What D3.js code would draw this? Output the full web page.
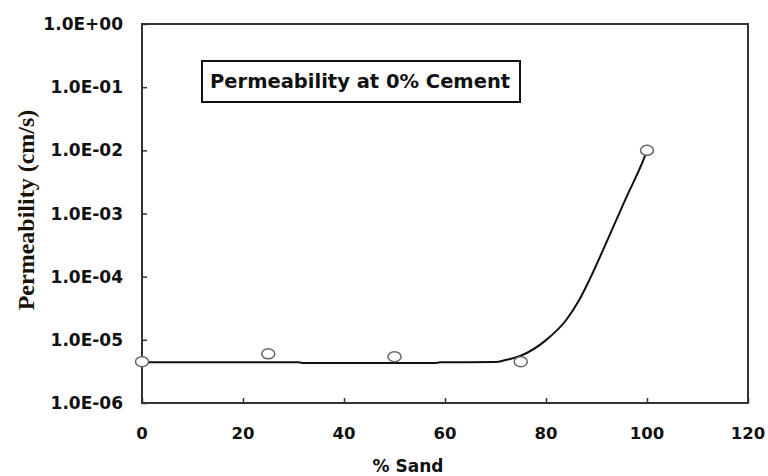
<!DOCTYPE html>
<html>
<head>
<meta charset="utf-8">
<script src="https://cdn.jsdelivr.net/npm/d3@7"></script>
<style>
  body { margin: 0; background: #fff; }
  svg { display: block; }
</style>
</head>
<body>
<div id="chart"></div>
<script>
// measured points
var sand = [0, 25, 50, 75, 100];
var perm = [4.5e-6, 6.0e-6, 5.4e-6, 4.5e-6, 1.0e-2];

// fitted curve
var fitSand = [0, 31, 32, 58, 59, 70, 72, 75, 80, 84, 86.6, 88.6, 91.9, 95.9, 99.5, 100];
var fitPerm = [4.4e-6, 4.4e-6, 4.3e-6, 4.3e-6, 4.4e-6, 4.45e-6, 4.8e-6, 5.6e-6, 9.9e-6, 2.06e-5, 4.3e-5, 8.9e-5, 3.4e-4, 1.8e-3, 7.8e-3, 1.0e-2];

var xTicks = [0, 20, 40, 60, 80, 100, 120];
var yTicks = [1e0, 1e-1, 1e-2, 1e-3, 1e-4, 1e-5, 1e-6];
var yTickLabels = ['1.0E+00', '1.0E-01', '1.0E-02', '1.0E-03', '1.0E-04', '1.0E-05', '1.0E-06'];

var width = 768, height = 476;
var plotLeft = 142, plotRight = 748, plotTop = 24, plotBottom = 403;
var axisCol = '#333';
var fontSans = '"DejaVu Sans", sans-serif';

var x = d3.scaleLinear().domain([0, 120]).range([plotLeft, plotRight]);
var y = d3.scaleLog().domain([1e-6, 1]).range([plotBottom, plotTop]);

var svg = d3.select('#chart').append('svg')
    .attr('width', width)
    .attr('height', height);

// plot frame
svg.append('rect')
    .attr('x', plotLeft)
    .attr('y', plotTop)
    .attr('width', plotRight - plotLeft)
    .attr('height', plotBottom - plotTop)
    .attr('fill', 'none')
    .attr('stroke', axisCol)
    .attr('stroke-width', 2);

// y axis, ticks inward
var yAxis = d3.axisRight(y)
    .tickValues(yTicks)
    .tickSize(5)
    .tickFormat('');
svg.append('g')
    .attr('transform', 'translate(' + plotLeft + ',0)')
    .call(yAxis)
    .call(function(g) { g.select('.domain').remove(); })
    .selectAll('line').attr('stroke', axisCol).attr('stroke-width', 1.5);

svg.append('g').selectAll('text')
    .data(yTicks)
    .enter().append('text')
    .attr('x', 123)
    .attr('y', function(d) { return y(d); })
    .attr('dy', '0.36em')
    .attr('text-anchor', 'end')
    .style('font-family', fontSans)
    .style('font-weight', 'bold')
    .style('font-size', '17px')
    .style('fill', '#111')
    .text(function(d, i) { return yTickLabels[i]; });

// x axis, ticks inward
var xAxis = d3.axisTop(x)
    .tickValues(xTicks)
    .tickSize(5)
    .tickFormat('');
svg.append('g')
    .attr('transform', 'translate(0,' + plotBottom + ')')
    .call(xAxis)
    .call(function(g) { g.select('.domain').remove(); })
    .selectAll('line').attr('stroke', axisCol).attr('stroke-width', 1.5);

svg.append('g').selectAll('text')
    .data(xTicks)
    .enter().append('text')
    .attr('x', function(d) { return x(d); })
    .attr('y', 439)
    .attr('text-anchor', 'middle')
    .style('font-family', fontSans)
    .style('font-weight', 'bold')
    .style('font-size', '16.5px')
    .style('fill', '#111')
    .text(function(d) { return d; });

// axis titles
svg.append('text')
    .attr('x', 408)
    .attr('y', 472)
    .attr('text-anchor', 'middle')
    .style('font-family', fontSans)
    .style('font-weight', 'bold')
    .style('font-size', '17px')
    .style('fill', '#111')
    .text('% Sand');

svg.append('text')
    .attr('transform', 'translate(34,210) rotate(-90)')
    .attr('text-anchor', 'middle')
    .style('font-family', '"Liberation Serif", "Times New Roman", serif')
    .style('font-weight', 'bold')
    .style('font-size', '24px')
    .style('fill', '#1a1208')
    .text('Permeability (cm/s)');

// fitted curve
var line = d3.line()
    .x(function(d) { return x(d[0]); })
    .y(function(d) { return y(d[1]); })
    .curve(d3.curveMonotoneX);

svg.append('path')
    .datum(d3.zip(fitSand, fitPerm))
    .attr('d', line)
    .attr('fill', 'none')
    .attr('stroke', '#111')
    .attr('stroke-width', 2);

// markers
svg.append('g').selectAll('ellipse')
    .data(d3.zip(sand, perm))
    .enter().append('ellipse')
    .attr('cx', function(d) { return x(d[0]); })
    .attr('cy', function(d) { return y(d[1]); })
    .attr('rx', 6.5)
    .attr('ry', 5)
    .attr('fill', '#fff')
    .attr('stroke', '#666')
    .attr('stroke-width', 1.5);

// legend box
var legend = svg.append('g');
legend.append('rect')
    .attr('x', 202)
    .attr('y', 61)
    .attr('width', 318)
    .attr('height', 41)
    .attr('fill', '#fff')
    .attr('stroke', '#111')
    .attr('stroke-width', 2);
legend.append('text')
    .attr('x', 210)
    .attr('y', 88)
    .style('font-family', fontSans)
    .style('font-weight', 'bold')
    .style('font-size', '19.5px')
    .style('fill', '#111')
    .text('Permeability at 0% Cement');
</script>
</body>
</html>
